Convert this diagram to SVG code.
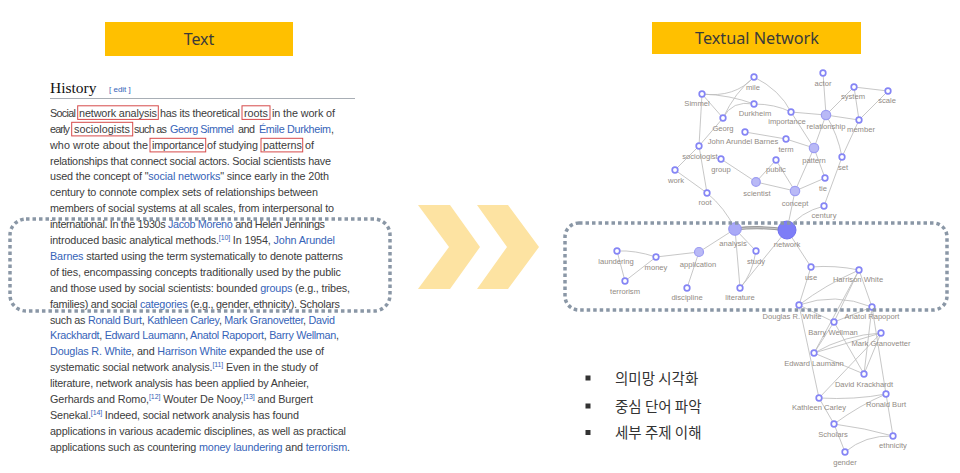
<svg xmlns="http://www.w3.org/2000/svg" width="960" height="473" viewBox="0 0 960 473">
<style>
.hdr{fill:#FFC000}
.hdrt{font-family:"Noto Sans","Liberation Sans",sans-serif;font-size:16px;fill:#3a3a3a;text-anchor:middle}
.body{font-family:"Liberation Sans",Arial,sans-serif;font-size:10.8px;fill:#3c3c3c}
.lk{fill:#3663b8}
.sup{font-size:7px;fill:#3663b8}
.mark{fill:none;stroke:#d64a4a;stroke-width:1}
.dots{fill:none;stroke:#8a97a6;stroke-width:3.5;stroke-dasharray:3.5 3}
.chev{fill:#FDE3A2}
.e{fill:none;stroke:#bdbdbd;stroke-width:0.85}
.n{fill:#fff;stroke:#8585f5;stroke-width:1.7}
.nb{fill:#b9b9f6;stroke:#9c9cf2;stroke-width:1.2}
.lb{font-family:"Liberation Sans",Arial,sans-serif;font-size:7.6px;fill:#918a84;text-anchor:middle}
.kr{font-family:"Noto Sans CJK KR","Noto Sans",sans-serif;font-size:14.5px;fill:#333}
</style>

<g id="header-text">
<rect class="hdr" x="105" y="22" width="188" height="34"/>
<text class="hdrt" x="199" y="44.5">Text</text>
</g>
<g id="header-network">
<rect class="hdr" x="652" y="22" width="209" height="32"/>
<text class="hdrt" x="757" y="43.5" textLength="124" lengthAdjust="spacingAndGlyphs">Textual Network</text>
</g>

<g id="wiki-text">
<text x="50" y="92.5" font-family="Liberation Serif,Times New Roman,serif" font-size="15.5" fill="#111">History</text>
<text x="109" y="92" font-family="Liberation Sans,Arial,sans-serif" font-size="8" fill="#3663b8">[ edit ]</text>
<line x1="50" y1="98.5" x2="355" y2="98.5" stroke="#a8aeb5" stroke-width="1"/>

<text class="body" y="116.8"><tspan x="50" textLength="26">Social</tspan><tspan x="79" textLength="78">network analysis</tspan><tspan x="160" textLength="80">has its theoretical</tspan><tspan x="244" textLength="24">roots</tspan><tspan x="272" textLength="63">in the work of</tspan></text>
<text class="body" y="132.7"><tspan x="50" textLength="20">early</tspan><tspan x="74" textLength="56">sociologists</tspan><tspan x="134" textLength="33">such as</tspan><tspan class="lk" x="170" textLength="64">Georg Simmel</tspan><tspan x="238" textLength="17">and</tspan><tspan class="lk" x="259" textLength="72">Émile Durkheim</tspan><tspan x="331">,</tspan></text>
<text class="body" y="148.6"><tspan x="50" textLength="98">who wrote about the</tspan><tspan x="152" textLength="52">importance</tspan><tspan x="207" textLength="51">of studying</tspan><tspan x="263" textLength="39">patterns</tspan><tspan x="305" textLength="9">of</tspan></text>
<text class="body" x="50" y="164.5" textLength="281">relationships that connect social actors. Social scientists have</text>
<text class="body" x="50" y="180.4" textLength="279">used the concept of "<tspan class="lk">social networks</tspan>" since early in the 20th</text>
<text class="body" x="50" y="196.3" textLength="268">century to connote complex sets of relationships between</text>
<text class="body" x="50" y="212.2" textLength="284">members of social systems at all scales, from interpersonal to</text>
<text class="body" x="50" y="228.1" textLength="275">international. In the 1930s <tspan class="lk">Jacob Moreno</tspan> and Helen Jennings</text>
<text class="body" x="50" y="244" textLength="285">introduced basic analytical methods.<tspan class="sup" dy="-4">[10]</tspan><tspan dy="4"> In 1954, </tspan><tspan class="lk">John Arundel</tspan></text>
<text class="body" x="50" y="259.9" textLength="293"><tspan class="lk">Barnes</tspan> started using the term systematically to denote patterns</text>
<text class="body" x="50" y="275.8" textLength="291">of ties, encompassing concepts traditionally used by the public</text>
<text class="body" x="50" y="291.7" textLength="300">and those used by social scientists: bounded <tspan class="lk">groups</tspan> (e.g., tribes,</text>
<text class="body" x="50" y="307.6" textLength="290">families) and social <tspan class="lk">categories</tspan> (e.g., gender, ethnicity). Scholars</text>
<text class="body" x="50" y="323.5" textLength="285">such as <tspan class="lk">Ronald Burt</tspan>, <tspan class="lk">Kathleen Carley</tspan>, <tspan class="lk">Mark Granovetter</tspan>, <tspan class="lk">David</tspan></text>
<text class="body" x="50" y="339.4" textLength="289"><tspan class="lk">Krackhardt</tspan>, <tspan class="lk">Edward Laumann</tspan>, <tspan class="lk">Anatol Rapoport</tspan>, <tspan class="lk">Barry Wellman</tspan>,</text>
<text class="body" x="50" y="355.3" textLength="274"><tspan class="lk">Douglas R. White</tspan>, and <tspan class="lk">Harrison White</tspan> expanded the use of</text>
<text class="body" x="50" y="371.2" textLength="268">systematic social network analysis.<tspan class="sup" dy="-4">[11]</tspan><tspan dy="4"> Even in the study of</tspan></text>
<text class="body" x="50" y="387.1" textLength="259">literature, network analysis has been applied by Anheier,</text>
<text class="body" x="50" y="403" textLength="263">Gerhards and Romo,<tspan class="sup" dy="-4">[12]</tspan><tspan dy="4"> Wouter De Nooy,</tspan><tspan class="sup" dy="-4">[13]</tspan><tspan dy="4"> and Burgert</tspan></text>
<text class="body" x="50" y="418.9" textLength="249">Senekal.<tspan class="sup" dy="-4">[14]</tspan><tspan dy="4"> Indeed, social network analysis has found</tspan></text>
<text class="body" x="50" y="434.8" textLength="296">applications in various academic disciplines, as well as practical</text>
<text class="body" x="50" y="450.7" textLength="300">applications such as countering <tspan class="lk">money laundering</tspan> and <tspan class="lk">terrorism</tspan>.</text>

<rect class="mark" x="77.7" y="105.8" width="80.6" height="13.6"/>
<rect class="mark" x="242" y="105.8" width="28" height="13.6"/>
<rect class="mark" x="71.7" y="122.3" width="61" height="13.6"/>
<rect class="mark" x="150" y="138.3" width="55.7" height="13.6"/>
<rect class="mark" x="261" y="138.3" width="41.7" height="13.6"/>
</g>

<g id="arrows">
<polygon class="chev" points="418,205 450,205 480,247 450,289 418,289 449,247"/>
<polygon class="chev" points="477,205 508,205 539,247 508,289 477,289 507,247"/>
</g>

<g id="connectors">
<path class="e" d="M702,94 Q730,95 754,104"/>
<path class="e" d="M702,94 Q735,98 754,77"/>
<path class="e" d="M702,94 L723,118"/>
<path class="e" d="M702,94 L699,146"/>
<path class="e" d="M754,77 Q735,92 723,118"/>
<path class="e" d="M754,77 Q780,90 791,112"/>
<path class="e" d="M723,118 Q732,100 754,104"/>
<path class="e" d="M754,104 Q775,104 791,112"/>
<path class="e" d="M791,112 L826,115"/>
<path class="e" d="M723,118 L699,146"/>
<path class="e" d="M699,146 L675,170"/>
<path class="e" d="M699,146 L707,193"/>
<path class="e" d="M675,170 L707,193"/>
<path class="e" d="M707,193 Q725,208 735,229"/>
<path class="e" d="M745,132 L786,139"/>
<path class="e" d="M786,139 L814,148"/>
<path class="e" d="M791,112 L814,148"/>
<path class="e" d="M826,115 L814,148"/>
<path class="e" d="M826,115 L823,73"/>
<path class="e" d="M826,115 L854,87"/>
<path class="e" d="M826,115 L859,120"/>
<path class="e" d="M826,115 Q838,135 842,157"/>
<path class="e" d="M854,87 L888,91"/>
<path class="e" d="M854,87 L859,120"/>
<path class="e" d="M888,91 L859,120"/>
<path class="e" d="M859,120 L842,157"/>
<path class="e" d="M842,157 L824,206"/>
<path class="e" d="M814,148 L795,191"/>
<path class="e" d="M814,148 L825,178"/>
<path class="e" d="M825,178 L795,191"/>
<path class="e" d="M721,159 L756,182"/>
<path class="e" d="M776,160 L756,182"/>
<path class="e" d="M776,160 Q785,175 795,191"/>
<path class="e" d="M756,182 L795,191"/>
<path class="e" d="M795,191 L787,230"/>
<path class="e" d="M824,206 Q800,212 787,230"/>
<path class="e" d="M735,229 L699,252"/>
<path class="e" d="M699,252 L656,257"/>
<path class="e" d="M656,257 Q635,250 617,251"/>
<path class="e" d="M656,257 L625,281"/>
<path class="e" d="M617,251 L625,281"/>
<path class="e" d="M699,252 L687,288"/>
<path class="e" d="M735,229 L756,251"/>
<path class="e" d="M735,229 L740,288"/>
<path class="e" d="M756,251 Q752,275 740,288"/>
<path class="e" d="M787,230 L740,288"/>
<path class="e" d="M787,230 L811,267"/>
<path class="e" d="M811,267 Q835,265 859,270"/>
<path class="e" d="M811,267 L799,305"/>
<path class="e" d="M859,270 Q825,285 799,305"/>
<path class="e" d="M859,270 L872,307"/>
<path class="e" d="M859,270 L834,322"/>
<path class="e" d="M859,270 L814,353"/>
<path class="e" d="M799,305 Q835,292 872,307"/>
<path class="e" d="M799,305 L834,322"/>
<path class="e" d="M799,305 L819,398"/>
<path class="e" d="M872,307 L834,322"/>
<path class="e" d="M872,307 L864,374"/>
<path class="e" d="M872,307 L886,394"/>
<path class="e" d="M834,322 L814,353"/>
<path class="e" d="M834,322 L864,374"/>
<path class="e" d="M881,333 L814,353"/>
<path class="e" d="M881,333 Q845,335 814,353"/>
<path class="e" d="M881,333 L864,374"/>
<path class="e" d="M881,333 L819,398"/>
<path class="e" d="M814,353 L864,374"/>
<path class="e" d="M819,398 Q855,400 886,394"/>
<path class="e" d="M819,398 L834,424"/>
<path class="e" d="M834,424 Q860,405 886,394"/>
<path class="e" d="M834,424 Q865,428 893,436"/>
<path class="e" d="M834,424 L845,452"/>
<path class="e" d="M845,452 Q865,435 893,436"/>
<path class="e" d="M886,394 L893,436"/>
<path d="M735,229 Q761,226 787,230" fill="none" stroke="#9a9a9a" stroke-width="3.2"/>
<path d="M735,229 Q761,226 787,230" fill="none" stroke="#c8c8c8" stroke-width="1"/>
</g>

<g id="nodes">
<g id="n-mile"><circle class="n" cx="754" cy="77" r="2.8"/><text class="lb" x="753" y="90">mile</text></g>
<g id="n-actor"><circle class="n" cx="823" cy="73" r="2.8"/><text class="lb" x="823" y="86">actor</text></g>
<g id="n-system"><circle class="n" cx="854" cy="87" r="2.8"/><text class="lb" x="853" y="99">system</text></g>
<g id="n-scale"><circle class="n" cx="888" cy="91" r="2.8"/><text class="lb" x="887" y="103">scale</text></g>
<g id="n-simmel"><circle class="n" cx="702" cy="94" r="2.8"/><text class="lb" x="697" y="106">Simmel</text></g>
<g id="n-durkheim"><circle class="n" cx="754" cy="104" r="2.8"/><text class="lb" x="755" y="116">Durkheim</text></g>
<g id="n-importance"><circle class="n" cx="791" cy="112" r="2.8"/><text class="lb" x="787" y="124">importance</text></g>
<g id="n-relationship"><circle class="nb" cx="826" cy="115" r="4.7"/><text class="lb" x="826" y="129">relationship</text></g>
<g id="n-member"><circle class="n" cx="859" cy="120" r="2.8"/><text class="lb" x="861" y="132">member</text></g>
<g id="n-georg"><circle class="n" cx="723" cy="118" r="2.8"/><text class="lb" x="723" y="131">Georg</text></g>
<g id="n-jab"><circle class="n" cx="745" cy="132" r="2.8"/><text class="lb" x="743" y="144">John Arundel Barnes</text></g>
<g id="n-term"><circle class="n" cx="786" cy="139" r="2.8"/><text class="lb" x="786" y="152">term</text></g>
<g id="n-pattern"><circle class="nb" cx="814" cy="148" r="4.7"/><text class="lb" x="814" y="162.5">pattern</text></g>
<g id="n-sociologist"><circle class="n" cx="699" cy="146" r="2.8"/><text class="lb" x="700" y="158.5">sociologist</text></g>
<g id="n-set"><circle class="n" cx="842" cy="157" r="2.8"/><text class="lb" x="843" y="170">set</text></g>
<g id="n-group"><circle class="n" cx="721" cy="159" r="2.8"/><text class="lb" x="721" y="172">group</text></g>
<g id="n-public"><circle class="n" cx="776" cy="160" r="2.8"/><text class="lb" x="776" y="172">public</text></g>
<g id="n-work"><circle class="n" cx="675" cy="170" r="2.8"/><text class="lb" x="676" y="182.5">work</text></g>
<g id="n-tie"><circle class="n" cx="825" cy="178" r="2.8"/><text class="lb" x="823" y="190.5">tie</text></g>
<g id="n-scientist"><circle class="nb" cx="756" cy="182" r="4.3"/><text class="lb" x="757" y="196">scientist</text></g>
<g id="n-concept"><circle class="nb" cx="795" cy="191" r="4.7"/><text class="lb" x="795" y="205.5">concept</text></g>
<g id="n-root"><circle class="n" cx="707" cy="193" r="2.8"/><text class="lb" x="705" y="205">root</text></g>
<g id="n-century"><circle class="n" cx="824" cy="206" r="2.8"/><text class="lb" x="824" y="218">century</text></g>
<g id="n-analysis"><circle cx="735" cy="229" r="6.3" fill="#a9a9f7" stroke="#9494f2" stroke-width="1"/><text class="lb" x="733" y="245.5">analysis</text></g>
<g id="n-network"><circle cx="787" cy="230" r="9" fill="#7d7df7" stroke="#7070f0" stroke-width="1"/><text class="lb" x="787" y="247">network</text></g>
<g id="n-laundering"><circle class="n" cx="617" cy="251" r="2.8"/><text class="lb" x="616" y="264">laundering</text></g>
<g id="n-money"><circle class="n" cx="656" cy="257" r="2.8"/><text class="lb" x="656" y="270">money</text></g>
<g id="n-application"><circle class="nb" cx="699" cy="252" r="4.5"/><text class="lb" x="698" y="267">application</text></g>
<g id="n-study"><circle class="n" cx="756" cy="251" r="2.8"/><text class="lb" x="756" y="264">study</text></g>
<g id="n-use"><circle class="n" cx="811" cy="267" r="2.8"/><text class="lb" x="811" y="280">use</text></g>
<g id="n-harrison"><circle class="n" cx="859" cy="270" r="2.8"/><text class="lb" x="858" y="282">Harrison White</text></g>
<g id="n-terrorism"><circle class="n" cx="625" cy="281" r="2.8"/><text class="lb" x="625" y="294">terrorism</text></g>
<g id="n-discipline"><circle class="n" cx="687" cy="288" r="2.8"/><text class="lb" x="687" y="300">discipline</text></g>
<g id="n-literature"><circle class="n" cx="740" cy="288" r="2.8"/><text class="lb" x="740" y="300">literature</text></g>
<g id="n-douglas"><circle class="n" cx="799" cy="305" r="2.8"/><text class="lb" x="792" y="318.5">Douglas R. White</text></g>
<g id="n-anatol"><circle class="n" cx="872" cy="307" r="2.8"/><text class="lb" x="872" y="318.5">Anatol Rapoport</text></g>
<g id="n-barry"><circle class="n" cx="834" cy="322" r="2.8"/><text class="lb" x="833" y="334.5">Barry Wellman</text></g>
<g id="n-mark"><circle class="n" cx="881" cy="333" r="2.8"/><text class="lb" x="881" y="346">Mark Granovetter</text></g>
<g id="n-edward"><circle class="n" cx="814" cy="353" r="2.8"/><text class="lb" x="814" y="366">Edward Laumann</text></g>
<g id="n-david"><circle class="n" cx="864" cy="374" r="2.8"/><text class="lb" x="864" y="386.5">David Krackhardt</text></g>
<g id="n-ronald"><circle class="n" cx="886" cy="394" r="2.8"/><text class="lb" x="886" y="406.5">Ronald Burt</text></g>
<g id="n-kathleen"><circle class="n" cx="819" cy="398" r="2.8"/><text class="lb" x="819" y="410">Kathleen Carley</text></g>
<g id="n-scholars"><circle class="n" cx="834" cy="424" r="2.8"/><text class="lb" x="833" y="436.5">Scholars</text></g>
<g id="n-ethnicity"><circle class="n" cx="893" cy="436" r="2.8"/><text class="lb" x="893" y="448">ethnicity</text></g>
<g id="n-gender"><circle class="n" cx="845" cy="452" r="2.8"/><text class="lb" x="845" y="465">gender</text></g>
</g>

<g id="highlight-boxes">
<rect class="dots" x="10" y="219" width="380" height="92" rx="16"/>
<rect class="dots" x="565" y="223" width="382" height="87" rx="14"/>
</g>

<g id="bullets">
<rect x="585.5" y="375.5" width="5" height="5" fill="#333"/>
<text class="kr" x="615" y="383.5">의미망 시각화</text>
<rect x="585.5" y="403.5" width="5" height="5" fill="#333"/>
<text class="kr" x="615" y="411.5">중심 단어 파악</text>
<rect x="585.5" y="430" width="5" height="5" fill="#333"/>
<text class="kr" x="615" y="438">세부 주제 이해</text>
</g>
</svg>
